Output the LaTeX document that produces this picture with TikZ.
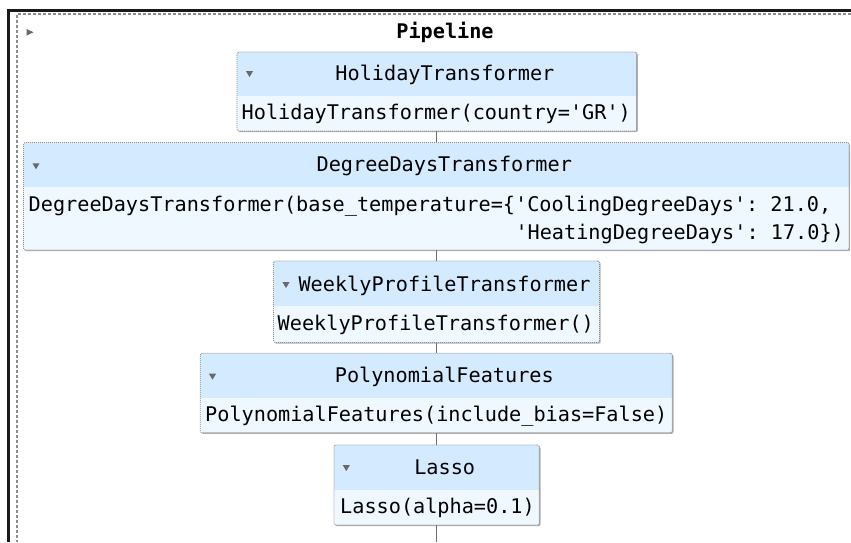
\documentclass[tikz,border=0pt]{standalone}
\usepackage{fontspec}
\setmonofont{DejaVu Sans Mono}
\usetikzlibrary{fit}
\definecolor{hdr}{HTML}{D4EBFF}
\definecolor{bdy}{HTML}{F0F8FF}
\definecolor{tri}{HTML}{696969}
\definecolor{framegray}{HTML}{8C8C8C}
\definecolor{conngray}{HTML}{6E6E6E}
\newcommand{\estimatorbox}[6]{% name, left, top, right, sep, bottom
  \fill[black!30, rounded corners=2pt] (#2+1.2,#3+1.2) rectangle (#4+1.2,#6+1.2);
  \begin{scope}
    \clip[rounded corners=2pt] (#2,#3) rectangle (#4,#6);
    \fill[bdy] (#2,#3) rectangle (#4,#6);
    \fill[hdr] (#2,#3) rectangle (#4,#5);
  \end{scope}
  \node[boxframe, fit={(#2,#3) (#4,#6)}] (#1) {};
}
\newcommand{\downtri}[2]{\fill[tri] (#1-3.6,#2-3) -- (#1+3.6,#2-3) -- (#1,#2+3) -- cycle;}
\begin{document}
\begin{tikzpicture}[x=1pt,y=-1pt,
  boxframe/.style={draw=framegray, dash pattern=on 1pt off 1pt, line width=0.8pt,
    rounded corners=2pt, inner sep=0pt},
  txt/.style={font=\fontsize{20.2pt}{24pt}\selectfont\ttfamily, inner sep=0pt, text=black},
  ttl/.style={txt, anchor=base},
  bdytxt/.style={txt, anchor=base west},
  conn/.style={draw=conngray, line width=1pt}]
\useasboundingbox (0,0) rectangle (851,542);
\fill[white] (0,0) rectangle (851,542);
% outer frame
\draw[line width=3pt, black!90] (7,10.5) -- (851,10.5);
\draw[line width=3pt, black!90] (8.5,9) -- (8.5,542);
\draw[framegray, line width=1.2pt, dash pattern=on 3pt off 2pt] (851,14) -- (17,14) -- (17,542);
\fill[tri] (26.5,29) -- (33.5,32.3) -- (26.5,35.6) -- cycle;
\node[ttl, font=\fontsize{20.2pt}{24pt}\selectfont\ttfamily\bfseries] (pipe) at (445,38) {Pipeline};

% boxes
\estimatorbox{h}{237}{52}{636.7}{95.7}{131}
\estimatorbox{d}{23.5}{142.5}{849}{187.3}{250}
\estimatorbox{w}{273.5}{261}{599.5}{306}{342.5}
\estimatorbox{p}{200.2}{353.3}{672.3}{398.3}{432.7}
\estimatorbox{l}{334}{445}{539.3}{490}{525}

% connectors
\coordinate (bottomend) at (436.6,542);
\draw[conn] (h.south) -- (h.south |- d.north);
\draw[conn] (h.south |- d.south) -- (h.south |- w.north);
\draw[conn] (h.south |- w.south) -- (h.south |- p.north);
\draw[conn] (h.south |- p.south) -- (h.south |- l.north);
\draw[conn] (h.south |- l.south) -- (h.south |- bottomend);

% triangles
\downtri{249.5}{74}
\downtri{36}{166.3}
\downtri{286}{285}
\downtri{212.5}{376.7}
\downtri{346.3}{468}

% titles
\node[ttl] (ht) at (444.9,80) {HolidayTransformer};
\node[ttl] (dt) at (444.3,171) {DegreeDaysTransformer};
\node[ttl] (wt) at (444.5,291) {WeeklyProfileTransformer};
\node[ttl] (pt) at (444.3,382.3) {PolynomialFeatures};
\node[ttl] (lt) at (444.7,474.5) {Lasso};

% bodies
\node[bdytxt] (hb) at (241.5,119) {HolidayTransformer(country='GR')};
\node[bdytxt] (db1) at (28.5,211) {DegreeDaysTransformer(base\_temperature=\{'CoolingDegreeDays': 21.0,};
\node[bdytxt] (db2) at (515.3,239) {'HeatingDegreeDays': 17.0\})};
\node[bdytxt] (wb) at (277.5,330) {WeeklyProfileTransformer()};
\node[bdytxt] (pb) at (205,421.5) {PolynomialFeatures(include\_bias=False)};
\node[bdytxt] (lb) at (340,513.5) {Lasso(alpha=0.1)};
\end{tikzpicture}
\end{document}
